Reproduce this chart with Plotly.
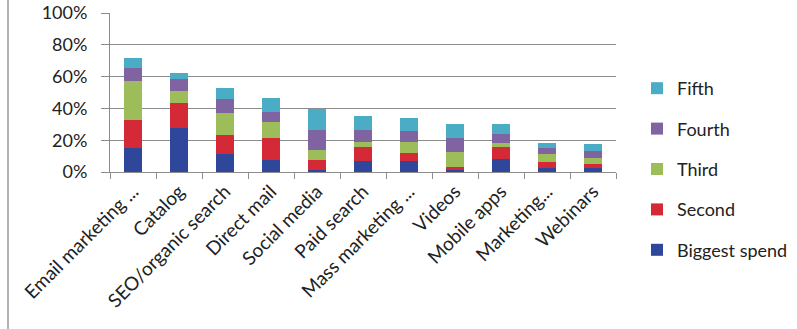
import plotly.graph_objects as go

categories = ["Email marketing ...", "Catalog", "SEO/organic search", "Direct mail",
              "Social media", "Paid search", "Mass marketing ...", "Videos",
              "Mobile apps", "Marketing...", "Webinars"]

biggest = [15.0, 27.6, 11.5, 7.4, 1.5, 7.0, 7.0, 1.1, 7.9, 2.5, 2.5]
second = [18.0, 15.5, 11.9, 13.8, 6.0, 8.9, 4.7, 2.1, 7.6, 4.1, 2.4]
third = [24.0, 8.0, 14.0, 10.2, 6.4, 3.0, 7.2, 9.3, 3.0, 4.5, 3.6]
fourth = [8.5, 7.7, 8.5, 6.4, 12.8, 7.7, 6.6, 8.7, 5.5, 4.2, 4.7]
fifth = [6.5, 3.4, 6.8, 8.7, 12.7, 8.6, 8.7, 8.7, 6.4, 3.2, 4.3]

series = [
    ("Biggest spend", biggest, "#2F479A"),
    ("Second", second, "#D42A38"),
    ("Third", third, "#9DBD5A"),
    ("Fourth", fourth, "#8064A2"),
    ("Fifth", fifth, "#4BACC6"),
]

fig = go.Figure()
for i, (name, vals, color) in enumerate(series):
    fig.add_trace(go.Bar(
        x=categories, y=[v / 100 for v in vals], name=name,
        marker=dict(color=color, line=dict(width=0)),
        legendgroup=name, legendrank=1000 - i,
    ))

font_family = "Lato, 'Open Sans', sans-serif"
L, R, T, B = 110, 181, 13, 157
W, H = 797, 329
pw = W - L - R
ph = H - T - B

fig.update_layout(
    width=W, height=H,
    barmode="stack", bargap=0.63,
    paper_bgcolor="white", plot_bgcolor="white",
    margin=dict(l=L, r=R, t=T, b=B, autoexpand=False),
    font=dict(family=font_family, size=18, color="#222222"),
    legend=dict(
        x=(637 - L) / pw, xanchor="left",
        y=(H - B - 70) / ph, yanchor="top",
        traceorder="grouped", tracegroupgap=14, maxheight=320,
        font=dict(size=18, color="#222222"),
        itemwidth=30,
    ),
    xaxis=dict(
        tickangle=-45, showline=True, linecolor="#8c8c8c", linewidth=1,
        ticks="outside", ticklen=6, tickcolor="#8c8c8c",
        tickson="boundaries", showgrid=False, automargin=False,
        tickfont=dict(size=19),
    ),
    yaxis=dict(
        range=[0, 1], tickvals=[0, 0.2, 0.4, 0.6, 0.8, 1.0],
        tickformat=".0%", showline=True, linecolor="#8c8c8c", linewidth=1,
        ticks="outside", ticklen=8, tickcolor="#8c8c8c", ticklabelstandoff=10,
        showgrid=True, gridcolor="#8c8c8c", gridwidth=1, automargin=False,
        zeroline=False, tickfont=dict(size=18),
    ),
    shapes=[dict(
        type="line", xref="paper", yref="paper",
        x0=(8 - L) / pw, x1=(8 - L) / pw, y0=-B / ph, y1=1 + T / ph,
        line=dict(color="#9a9a9a", width=1.5),
    )],
)

fig.write_html("out.html", config={"displayModeBar": False},
               post_script="document.body.style.margin='0';")
